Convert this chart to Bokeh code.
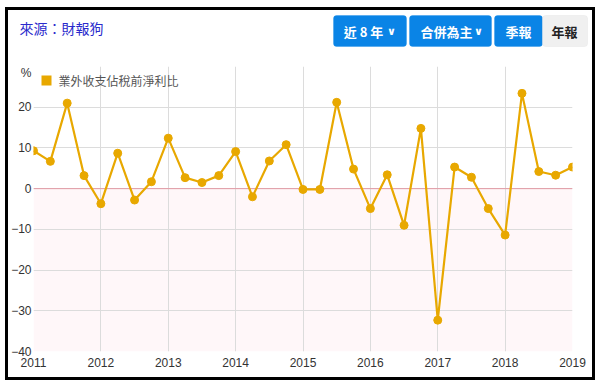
from bokeh.plotting import figure
from bokeh.models import (Range1d, FixedTicker, BoxAnnotation, Label, Span,
                          ColumnDataSource)
from bokeh.layouts import column
from bokeh.embed import file_html
from bokeh.resources import INLINE

# ---- data ----
years = [2011]*4 + [2012]*4 + [2013]*4 + [2014]*4 + [2015]*4 + [2016]*4 + [2017]*4 + [2018]*4 + [2019]
quarters = [1, 2, 3, 4]*8 + [1]
ratio = [9.3, 6.7, 21.0, 3.2,
         -3.7, 8.7, -2.8, 1.7,
         12.4, 2.7, 1.5, 3.2,
         9.1, -2.0, 6.8, 10.8,
         -0.2, -0.2, 21.2, 4.8,
         -4.9, 3.4, -9.0, 14.8,
         -32.3, 5.3, 2.8, -4.9,
         -11.4, 23.4, 4.2, 3.3,
         5.3]
series_name = "業外收支佔稅前淨利比"
x_ticks = [2011, 2012, 2013, 2014, 2015, 2016, 2017, 2018, 2019]
y_ticks = [-40, -30, -20, -10, 0, 10, 20]
y_grid = [-40, -30, -20, -10, 0, 10, 20, 30]
unit_tick = 28.5
unit_text = "%"
title_text = "來源：財報狗"
buttons = ["近 8 年", "合併為主", "季報", "年報"]

xpos = [y + (q - 1) / 4 for y, q in zip(years, quarters)]
src = ColumnDataSource(dict(x=xpos, y=ratio))

LINE = "#e8a800"
FONT = "Liberation Sans"
CJK = "Noto Sans CJK TC"
W = 584

# ---------------- header ----------------
HH = 46
hdr = figure(width=W, height=HH, output_backend="svg", toolbar_location=None,
             x_range=Range1d(0, 1), y_range=Range1d(0, 1),
             x_axis_type=None, y_axis_type=None, min_border=0)
hdr.frame_align = False
hdr.grid.visible = False
hdr.outline_line_color = None
hdr.border_fill_color = "white"


def hx(cx):
    return cx - 8


def hy(cy):
    return HH - (cy - 9)


hdr.add_layout(Label(x=hx(19), y=hy(26), x_units="screen", y_units="screen",
                     text=title_text, text_font=CJK, text_font_size="14px",
                     text_color="#2a2acc", text_baseline="middle"))

btn_boxes = [(333, 406), (409, 491), (494, 542), (542, 587)]
btn_text_x = [363, 446, 518, 564]
for i, ((l, r), t, tx) in enumerate(zip(btn_boxes, buttons, btn_text_x)):
    grey = i == 3
    hdr.add_layout(BoxAnnotation(left=hx(l), right=hx(r), top=hy(14), bottom=hy(45),
                                 left_units="screen", right_units="screen",
                                 top_units="screen", bottom_units="screen",
                                 fill_color="#f0f0f0" if grey else "#0a84e6",
                                 fill_alpha=1,
                                 line_color="#dddddd" if grey else "#0a84e6",
                                 line_width=1, border_radius=3))
    hdr.add_layout(Label(x=hx(tx), y=hy(30), x_units="screen", y_units="screen",
                         text=t, text_font=CJK, text_font_size="13px",
                         text_font_style="bold",
                         text_color="#222222" if grey else "white",
                         text_align="center", text_baseline="middle"))
for cx in (391, 478):
    hdr.add_layout(Label(x=hx(cx), y=hy(30), x_units="screen", y_units="screen",
                         text="∨", text_font="DejaVu Sans", text_font_size="11px",
                         text_font_style="bold", text_color="white",
                         text_align="center", text_baseline="middle"))

# ---------------- chart ----------------
p = figure(width=W, height=321, output_backend="svg", toolbar_location=None,
           x_range=Range1d(2011, 2019), y_range=Range1d(-40, 30),
           min_border_left=24, min_border_right=20, min_border_top=10,
           min_border_bottom=26)
p.frame_align = False
p.outline_line_color = None
p.background_fill_color = "white"
p.border_fill_color = "white"

p.xaxis.ticker = FixedTicker(ticks=x_ticks)
p.yaxis.ticker = FixedTicker(ticks=y_ticks + [unit_tick])
p.yaxis.major_label_overrides = {unit_tick: unit_text}
p.ygrid.ticker = FixedTicker(ticks=y_grid)
for ax in (p.xaxis, p.yaxis):
    ax.axis_line_color = None
    ax.major_tick_line_color = None
    ax.minor_tick_line_color = None
    ax.major_tick_out = 0
    ax.major_tick_in = 0
    ax.minor_tick_out = 0
    ax.minor_tick_in = 0
    ax.major_label_text_font = FONT
    ax.major_label_text_font_size = "12px"
    ax.major_label_text_color = "#333333"
p.yaxis.major_label_standoff = 2
p.xaxis.major_label_standoff = 6
p.xgrid.grid_line_color = "#dcdcdc"
p.ygrid.grid_line_color = "#dcdcdc"

p.add_layout(BoxAnnotation(top=0, fill_color="#fff7f9", fill_alpha=1,
                           line_color=None, level="image"))
p.add_layout(Span(location=0, dimension="width", line_color="#e39aa5",
                  line_width=1, level="underlay"))

p.line("x", "y", source=src, line_color=LINE, line_width=2.2)
p.scatter("x", "y", source=src, size=8, fill_color=LINE, line_color=LINE)

# legend (frame-relative screen units)
p.add_layout(BoxAnnotation(left=8, right=18, top=276, bottom=266,
                           left_units="screen", right_units="screen",
                           top_units="screen", bottom_units="screen",
                           fill_color=LINE, fill_alpha=1, line_color=None))
p.add_layout(Label(x=25, y=271, x_units="screen", y_units="screen",
                   text=series_name, text_font=CJK, text_font_size="12px",
                   text_color="#555555", text_baseline="middle"))

layout = column(hdr, p, spacing=0, margin=(7, 5, 5, 5),
                styles={"border": "3px solid black"})

open("out.html", "w").write(file_html(layout, INLINE))
